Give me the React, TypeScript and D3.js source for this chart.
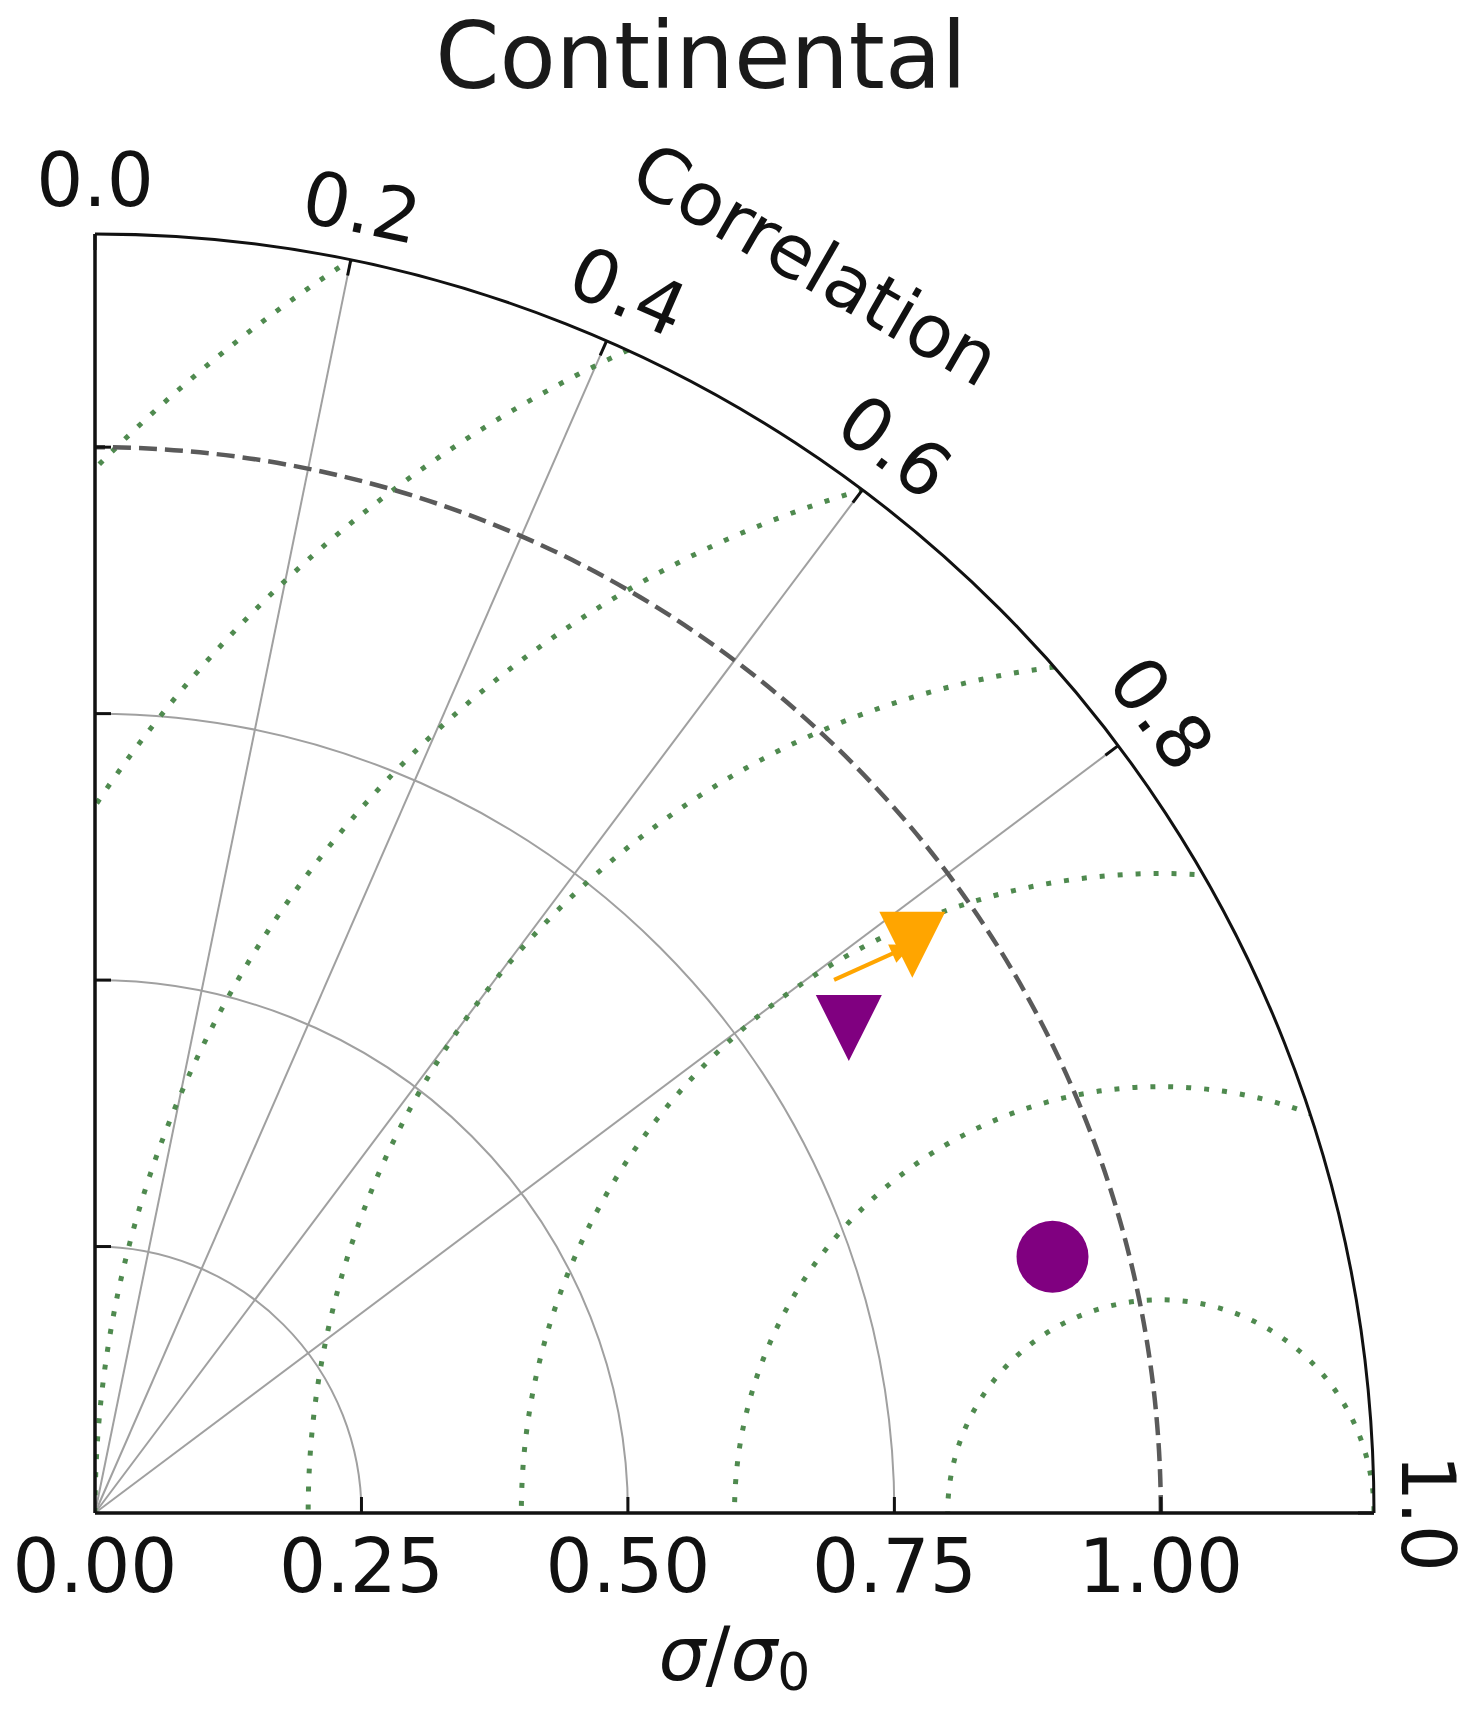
import React from 'react';
import * as d3 from 'd3';

// Taylor diagram, "Continental"
const title = 'Continental';
const stdMax = 1.2;
const refStd = 1.0;
const stdTicks = [0, 0.25, 0.5, 0.75, 1.0];
const stdTickLabels = ['0.00', '0.25', '0.50', '0.75', '1.00'];
const stdGridLevels = [0.25, 0.5, 0.75];
const corrTicks = [0.0, 0.2, 0.4, 0.6, 0.8, 1.0];
const corrTickLabels = ['0.0', '0.2', '0.4', '0.6', '0.8', '1.0'];
const corrGridLevels = [0.2, 0.4, 0.6, 0.8];
const rmsLevels = [0.2, 0.4, 0.6, 0.8, 1.0, 1.2, 1.4];

// models (normalised std, correlation)
const modelStd = [0.930, 0.841, 0.934];
const modelCorr = [0.966, 0.841, 0.821];
const markerShapes = ['circle', 'triangleDown', 'triangleDown'];
const markerColors = ['#800080', '#800080', '#ffa500'];

// arrow between the two triangles
const arrowStd = [0.855, 0.934];
const arrowCorr = [0.811, 0.821];

const W = 1476;
const H = 1710;
const ox = 95;
const oy = 1513;
const font = '"DejaVu Sans", sans-serif';

const App = () => {
  const r = d3.scaleLinear().domain([0, stdMax]).range([0, 1279]);
  const R = r(stdMax);

  const polar = (s: number, c: number): [number, number] => {
    const t = Math.acos(c);
    return [ox + r(s) * Math.cos(t), oy - r(s) * Math.sin(t)];
  };

  const quarterArc = (rad: number) => {
    const p = d3.path();
    p.moveTo(ox + rad, oy);
    p.arc(ox, oy, rad, 0, -Math.PI / 2, true);
    return p.toString();
  };

  const sector = (() => {
    const p = d3.path();
    p.moveTo(ox, oy);
    p.lineTo(ox + R, oy);
    p.arc(ox, oy, R, 0, -Math.PI / 2, true);
    p.closePath();
    return p.toString();
  })();

  const rmsCircle = (level: number) => {
    const cx = ox + r(refStd);
    const rr = r(level);
    const p = d3.path();
    p.moveTo(cx + rr, oy);
    p.arc(cx, oy, rr, 0, Math.PI * 2);
    return p.toString();
  };

  const triDown = (x: number, y: number, s: number) =>
    `M${x - s},${y - s}L${x + s},${y - s}L${x},${y + s}Z`;

  const [ax0, ay0] = polar(arrowStd[0], arrowCorr[0]);
  const [ax1, ay1] = polar(arrowStd[1], arrowCorr[1]);
  const ang = Math.atan2(ay1 - ay0, ax1 - ax0);
  const hl = 22;
  const hw = 10;
  const head = `M${ax1},${ay1}L${ax1 - hl * Math.cos(ang) + hw * Math.sin(ang)},${ay1 - hl * Math.sin(ang) - hw * Math.cos(ang)}L${ax1 - hl * Math.cos(ang) - hw * Math.sin(ang)},${ay1 - hl * Math.sin(ang) + hw * Math.cos(ang)}Z`;

  // "Correlation" label sits outside the arc at 60 degrees
  const labAng = (60 * Math.PI) / 180;
  const lx = ox + (R + 163) * Math.cos(labAng);
  const ly = oy - (R + 163) * Math.sin(labAng);

  return (
    <svg width={W} height={H} style={{ position: 'absolute', left: 0, top: 0, background: '#fff' }} fontFamily={font}>
      <defs>
        <clipPath id="sector">
          <path d={sector} />
        </clipPath>
      </defs>

      {/* title */}
      <text x={701} y={88} textAnchor="middle" fontSize={92} fill="#1a1a1a">{title}</text>

      {/* std grid arcs */}
      {stdGridLevels.map(s => (
        <path key={'sg' + s} d={quarterArc(r(s))} fill="none" stroke="#a0a0a0" strokeWidth={2} />
      ))}

      {/* correlation grid lines */}
      {corrGridLevels.map(c => {
        const [x, y] = polar(stdMax, c);
        return <line key={'cg' + c} x1={ox} y1={oy} x2={x} y2={y} stroke="#a0a0a0" strokeWidth={2} />;
      })}

      {/* RMS contours */}
      <g clipPath="url(#sector)">
        {rmsLevels.map(l => (
          <path key={'rms' + l} d={rmsCircle(l)} fill="none" stroke="#4f8a4f" strokeWidth={5}
            strokeDasharray="5,13" />
        ))}
      </g>

      {/* reference std arc */}
      <path d={quarterArc(r(refStd))} fill="none" stroke="#5a5a5a" strokeWidth={4.5} strokeDasharray="18,8" />

      {/* frame */}
      <path d={quarterArc(R)} fill="none" stroke="#111" strokeWidth={3} />
      <line x1={ox} y1={oy} x2={ox + R} y2={oy} stroke="#111" strokeWidth={3.5} />
      <line x1={ox} y1={oy} x2={ox} y2={oy - R} stroke="#111" strokeWidth={3.5} />

      {/* std ticks */}
      {stdTicks.filter(s => s > 0).map(s => (
        <g key={'st' + s}>
          <line x1={ox + r(s)} y1={oy} x2={ox + r(s)} y2={oy - 16} stroke="#111" strokeWidth={3} />
          <line x1={ox} y1={oy - r(s)} x2={ox + 16} y2={oy - r(s)} stroke="#111" strokeWidth={3} />
        </g>
      ))}
      {stdTicks.map((s, i) => (
        <text key={'stl' + s} x={ox + r(s)} y={1592} textAnchor="middle" fontSize={74} fill="#111">
          {stdTickLabels[i]}
        </text>
      ))}

      {/* correlation ticks */}
      {corrTicks.map((c, i) => {
        const t = Math.acos(c);
        const [x1, y1] = polar(stdMax, c);
        const x2 = ox + (R - 16) * Math.cos(t);
        const y2 = oy - (R - 16) * Math.sin(t);
        const lxp = ox + (R + 54) * Math.cos(t);
        const lyp = oy - (R + 54) * Math.sin(t);
        const rot = 90 - (t * 180) / Math.PI;
        return (
          <g key={'ct' + c}>
            <line x1={x1} y1={y1} x2={x2} y2={y2} stroke="#111" strokeWidth={3} />
            <text transform={`translate(${lxp},${lyp}) rotate(${rot})`} textAnchor="middle"
              dominantBaseline="central" fontSize={74} fill="#111">
              {corrTickLabels[i]}
            </text>
          </g>
        );
      })}

      {/* axis labels */}
      <text transform={`translate(${lx},${ly}) rotate(30)`} textAnchor="middle" dominantBaseline="central"
        fontSize={74} fill="#111">Correlation</text>
      <text x={ox + R / 2} y={1680} textAnchor="middle" fontSize={74} fill="#111">
        <tspan fontStyle="italic">σ</tspan>/<tspan fontStyle="italic">σ</tspan>
        <tspan fontSize={52} dy={10}>0</tspan>
      </text>

      {/* arrow */}
      <line x1={ax0} y1={ay0} x2={ax1} y2={ay1} stroke="#ffa500" strokeWidth={4} />
      <path d={head} fill="#ffa500" />

      {/* models */}
      {modelStd.map((s, i) => {
        const [x, y] = polar(s, modelCorr[i]);
        return markerShapes[i] === 'circle'
          ? <circle key={'m' + i} cx={x} cy={y} r={36} fill={markerColors[i]} />
          : <path key={'m' + i} d={triDown(x, y, 33)} fill={markerColors[i]} />;
      })}
    </svg>
  );
};

export default App;
